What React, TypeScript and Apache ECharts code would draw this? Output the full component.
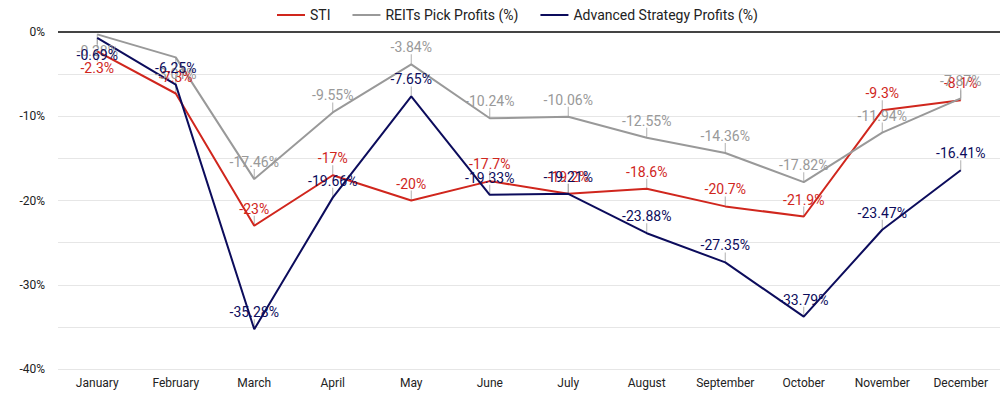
import React, { useEffect, useRef } from "react";
import * as echarts from "echarts";

const months = ["January", "February", "March", "April", "May", "June", "July", "August", "September", "October", "November", "December"];
const sti = [-2.3, -7.3, -23, -17, -20, -17.7, -19.2, -18.6, -20.7, -21.9, -9.3, -8.1];
const reits = [-0.28, -3.01, -17.46, -9.55, -3.84, -10.24, -10.06, -12.55, -14.36, -17.82, -11.94, -7.87];
const adv = [-0.69, -6.25, -35.28, -19.66, -7.65, -19.33, -19.21, -23.88, -27.35, -33.79, -23.47, -16.41];
const yTicks = [0, -10, -20, -30, -40];

const stiBelow = [0];
const reitsBelow = [0, 1];
const advBelow = [0];

const RED = "#d0261d";
const GRAY = "#999999";
const NAVY = "#0c0c5c";
const FONT = "Roboto";

function lineSeries(name: string, values: number[], color: string, below: number[]) {
  return {
    name,
    type: "line",
    data: values.map((v, i) =>
      below.includes(i) ? { value: v, label: { position: "bottom" } } : v
    ),
    symbol: "circle",
    symbolSize: 0,
    showSymbol: true,
    lineStyle: { color, width: 2 },
    itemStyle: { color },
    label: {
      show: true,
      position: "top",
      distance: 10,
      color,
      fontSize: 14,
      fontFamily: FONT,
      formatter: (p: any) => `${p.value}%`,
    },
    z: 3,
  };
}

function leaderSeries(values: number[], below: number[]) {
  return {
    type: "scatter",
    silent: true,
    data: values.map((v, i) => ({
      value: v,
      symbolOffset: below.includes(i) ? [0, 5] : [0, -5],
    })),
    symbol: "rect",
    symbolSize: [1, 10],
    itemStyle: { color: "#9e9e9e" },
    z: 2,
  };
}

export default function App() {
  const ref = useRef<HTMLDivElement>(null);
  useEffect(() => {
    if (!ref.current) return;
    const chart = echarts.init(ref.current, undefined, { renderer: "svg" });
    chart.setOption({
      animation: false,
      textStyle: { fontFamily: FONT },
      legend: {
        data: ["STI", "REITs Pick Profits (%)", "Advanced Strategy Profits (%)"],
        left: 272,
        top: 3,
        icon: "rect",
        itemWidth: 28,
        itemHeight: 2,
        itemGap: 22,
        textStyle: { color: "#222", fontSize: 14, fontFamily: FONT },
      },
      grid: { left: 58, right: -9, top: 32, bottom: 28, containLabel: false },
      xAxis: {
        type: "category",
        data: months,
        boundaryGap: true,
        axisLine: { show: false },
        axisTick: { show: false },
        axisLabel: { color: "#222", fontSize: 12, margin: 8, fontFamily: FONT },
      },
      yAxis: {
        type: "value",
        min: -40,
        max: 0,
        interval: 5,
        axisLine: { show: false },
        axisTick: { show: false },
        axisLabel: {
          color: "#222",
          fontSize: 12,
          margin: 13,
          fontFamily: FONT,
          formatter: (v: number) => (yTicks.includes(v) ? `${v}%` : ""),
        },
        splitLine: { lineStyle: { color: "#e6e6e6", width: 1 } },
      },
      series: [
        leaderSeries(sti, stiBelow),
        leaderSeries(reits, reitsBelow),
        leaderSeries(adv, advBelow),
        lineSeries("STI", sti, RED, stiBelow),
        {
          ...lineSeries("REITs Pick Profits (%)", reits, GRAY, reitsBelow),
          markLine: {
            silent: true,
            symbol: "none",
            label: { show: false },
            lineStyle: { color: "#444", width: 2, type: "solid" },
            data: [{ yAxis: 0 }],
          },
        },
        lineSeries("Advanced Strategy Profits (%)", adv, NAVY, advBelow),
      ],
    });
    return () => chart.dispose();
  }, []);
  return (
    <div
      ref={ref}
      style={{ position: "absolute", left: 0, top: 0, width: 1000, height: 397 }}
    />
  );
}
